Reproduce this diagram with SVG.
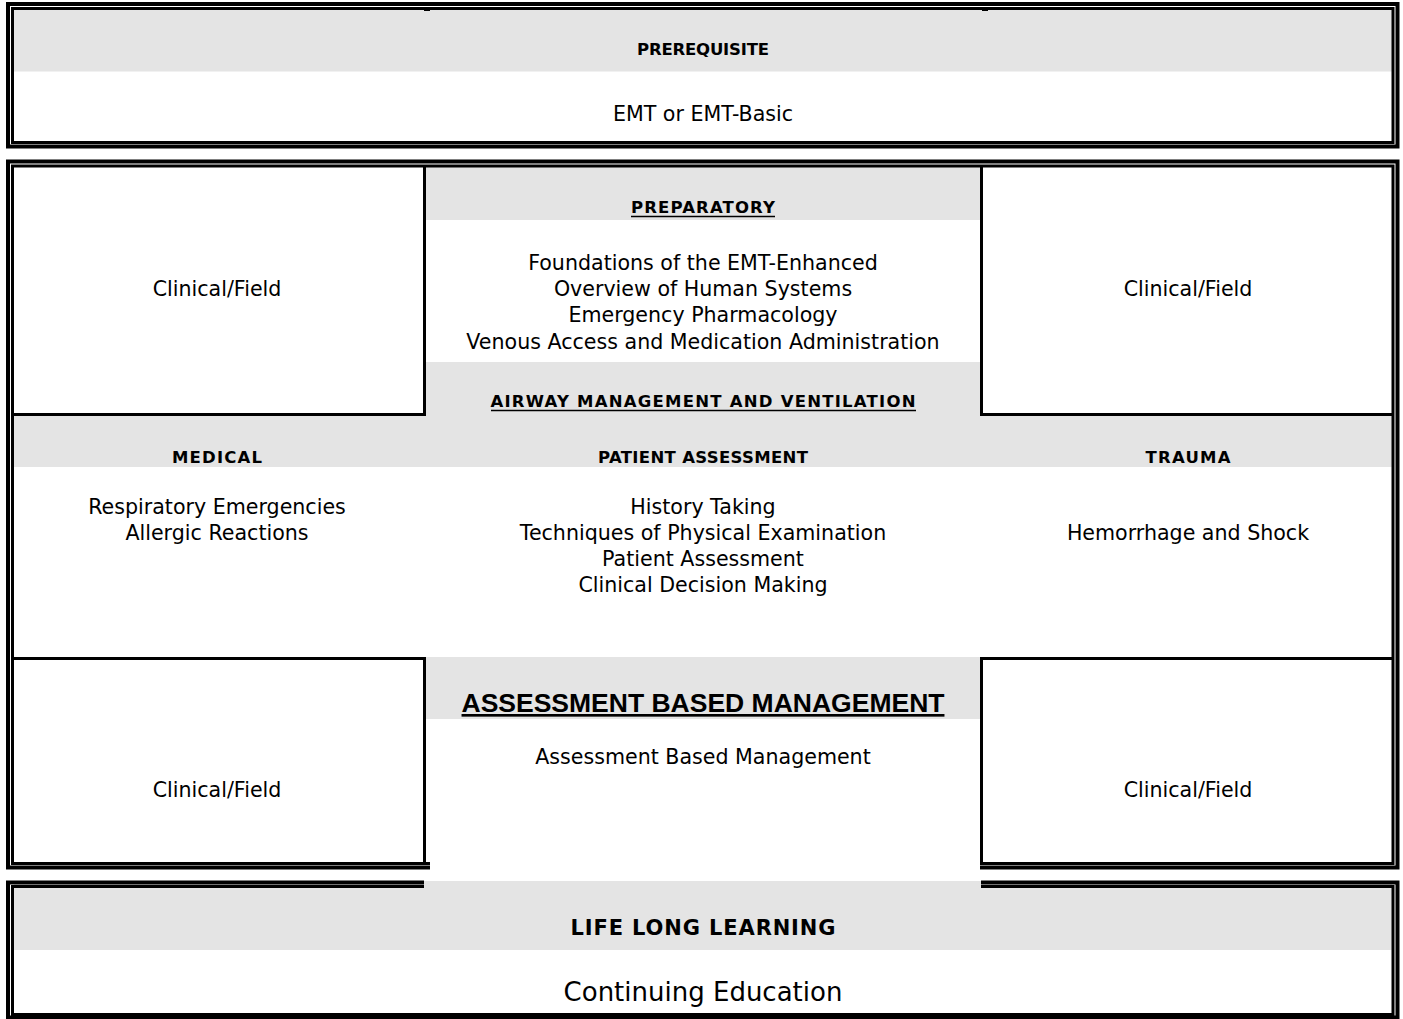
<svg xmlns="http://www.w3.org/2000/svg" width="1403" height="1019" viewBox="0 0 1403 1019">
<style>
.bg{fill:#ffffff}
.gray{fill:#e4e4e4}
.b{fill:none;stroke:#000;stroke-linecap:butt}
.o{stroke-width:4}
.i{stroke-width:3}
.ul{stroke:#000;stroke-width:1.5}
.t{font-family:"DejaVu Sans","Noto Sans",sans-serif;font-size:20.6px;fill:#000;text-anchor:middle}
.h{font-family:"DejaVu Sans","Noto Sans",sans-serif;font-size:16.5px;font-weight:bold;fill:#000;text-anchor:middle}
.abm{font-family:"Liberation Sans",Arial,sans-serif;font-size:26.5px;font-weight:bold;fill:#000;text-anchor:middle;text-decoration:underline}
</style>
<rect class="bg" x="0" y="0" width="1403" height="1019"/>

<g id="prerequisite">
  <rect class="gray" x="14" y="9.5" width="1378" height="62"/>
  <text class="h" x="703" y="55" textLength="132" lengthAdjust="spacing">PREREQUISITE</text>
  <text class="t" x="703" y="121">EMT or EMT-Basic</text>
</g>

<g id="preparatory">
  <rect class="gray" x="426" y="167" width="554" height="53"/>
  <text class="h" x="703" y="213" textLength="144" lengthAdjust="spacing">PREPARATORY</text>
  <line class="ul" x1="631" y1="216.5" x2="775" y2="216.5"/>
  <text class="t" x="703" y="270">Foundations of the EMT-Enhanced</text>
  <text class="t" x="703" y="296">Overview of Human Systems</text>
  <text class="t" x="703" y="322">Emergency Pharmacology</text>
  <text class="t" x="703" y="349">Venous Access and Medication Administration</text>
</g>

<g id="airway">
  <rect class="gray" x="426" y="362" width="554" height="54"/>
  <text class="h" x="703" y="407" textLength="425" lengthAdjust="spacing">AIRWAY MANAGEMENT AND VENTILATION</text>
  <line class="ul" x1="491" y1="410.5" x2="916" y2="410.5"/>
</g>

<g id="clinical-top-left">
  <text class="t" x="217" y="296">Clinical/Field</text>
</g>
<g id="clinical-top-right">
  <text class="t" x="1188" y="296">Clinical/Field</text>
</g>

<g id="header-row">
  <rect class="gray" x="14" y="416" width="1378" height="51"/>
</g>

<g id="medical">
  <text class="h" x="217" y="463" textLength="90" lengthAdjust="spacing">MEDICAL</text>
  <text class="t" x="217" y="514">Respiratory Emergencies</text>
  <text class="t" x="217" y="540">Allergic Reactions</text>
</g>

<g id="patient-assessment">
  <text class="h" x="703" y="463" textLength="210" lengthAdjust="spacing">PATIENT ASSESSMENT</text>
  <text class="t" x="703" y="514">History Taking</text>
  <text class="t" x="703" y="540">Techniques of Physical Examination</text>
  <text class="t" x="703" y="566">Patient Assessment</text>
  <text class="t" x="703" y="592">Clinical Decision Making</text>
</g>

<g id="trauma">
  <text class="h" x="1188" y="463" textLength="85" lengthAdjust="spacing">TRAUMA</text>
  <text class="t" x="1188" y="540">Hemorrhage and Shock</text>
</g>

<g id="assessment-based-management">
  <rect class="gray" x="426" y="657" width="555" height="62"/>
  <text class="abm" x="703" y="712">ASSESSMENT BASED MANAGEMENT</text>
  <text class="t" x="703" y="764">Assessment Based Management</text>
</g>

<g id="clinical-bottom-left">
  <text class="t" x="217" y="797">Clinical/Field</text>
</g>
<g id="clinical-bottom-right">
  <text class="t" x="1188" y="797">Clinical/Field</text>
</g>

<g id="life-long-learning">
  <rect class="gray" x="14" y="881" width="1378" height="69"/>
  <text font-family="DejaVu Sans, sans-serif" font-size="21" font-weight="bold" text-anchor="middle" x="703" y="935" textLength="265" lengthAdjust="spacing">LIFE LONG LEARNING</text>
  <text font-family="DejaVu Sans, sans-serif" font-size="26" text-anchor="middle" x="703" y="1001">Continuing Education</text>
</g>

<g id="connectors">
  <!-- box 1 double border -->
  <rect class="b o" x="8" y="4" width="1389.5" height="142.5"/>
  <rect class="b i" x="12.5" y="8.5" width="1380.5" height="134"/>
  <rect x="424" y="9" width="6" height="2" fill="#000"/>
  <rect x="982" y="9" width="6" height="2" fill="#000"/>
  <!-- box 2 double border (open at bottom middle) -->
  <path class="b o" d="M430 867.5 H8 V161.5 H1397.5 V867.5 H980"/>
  <path class="b i" d="M430 863.5 H12.5 V166 H1393 V863.5 H980"/>
  <!-- top clinical cells -->
  <path class="b i" d="M14 414.5 H424.5 V166"/>
  <path class="b i" d="M981.5 166 V414.5 H1392"/>
  <!-- bottom clinical cells -->
  <path class="b i" d="M14 658.5 H424.5 V863"/>
  <path class="b i" d="M1392 658.5 H981.5 V863"/>
  <!-- box 3 double border (open at top middle) -->
  <path class="b o" d="M424 882.5 H8 V1017.5 H1397.5 V882.5 H981"/>
  <path class="b i" d="M424 886.5 H12.5 V1014.5 H1393 V886.5 H981"/>
</g>
</svg>
